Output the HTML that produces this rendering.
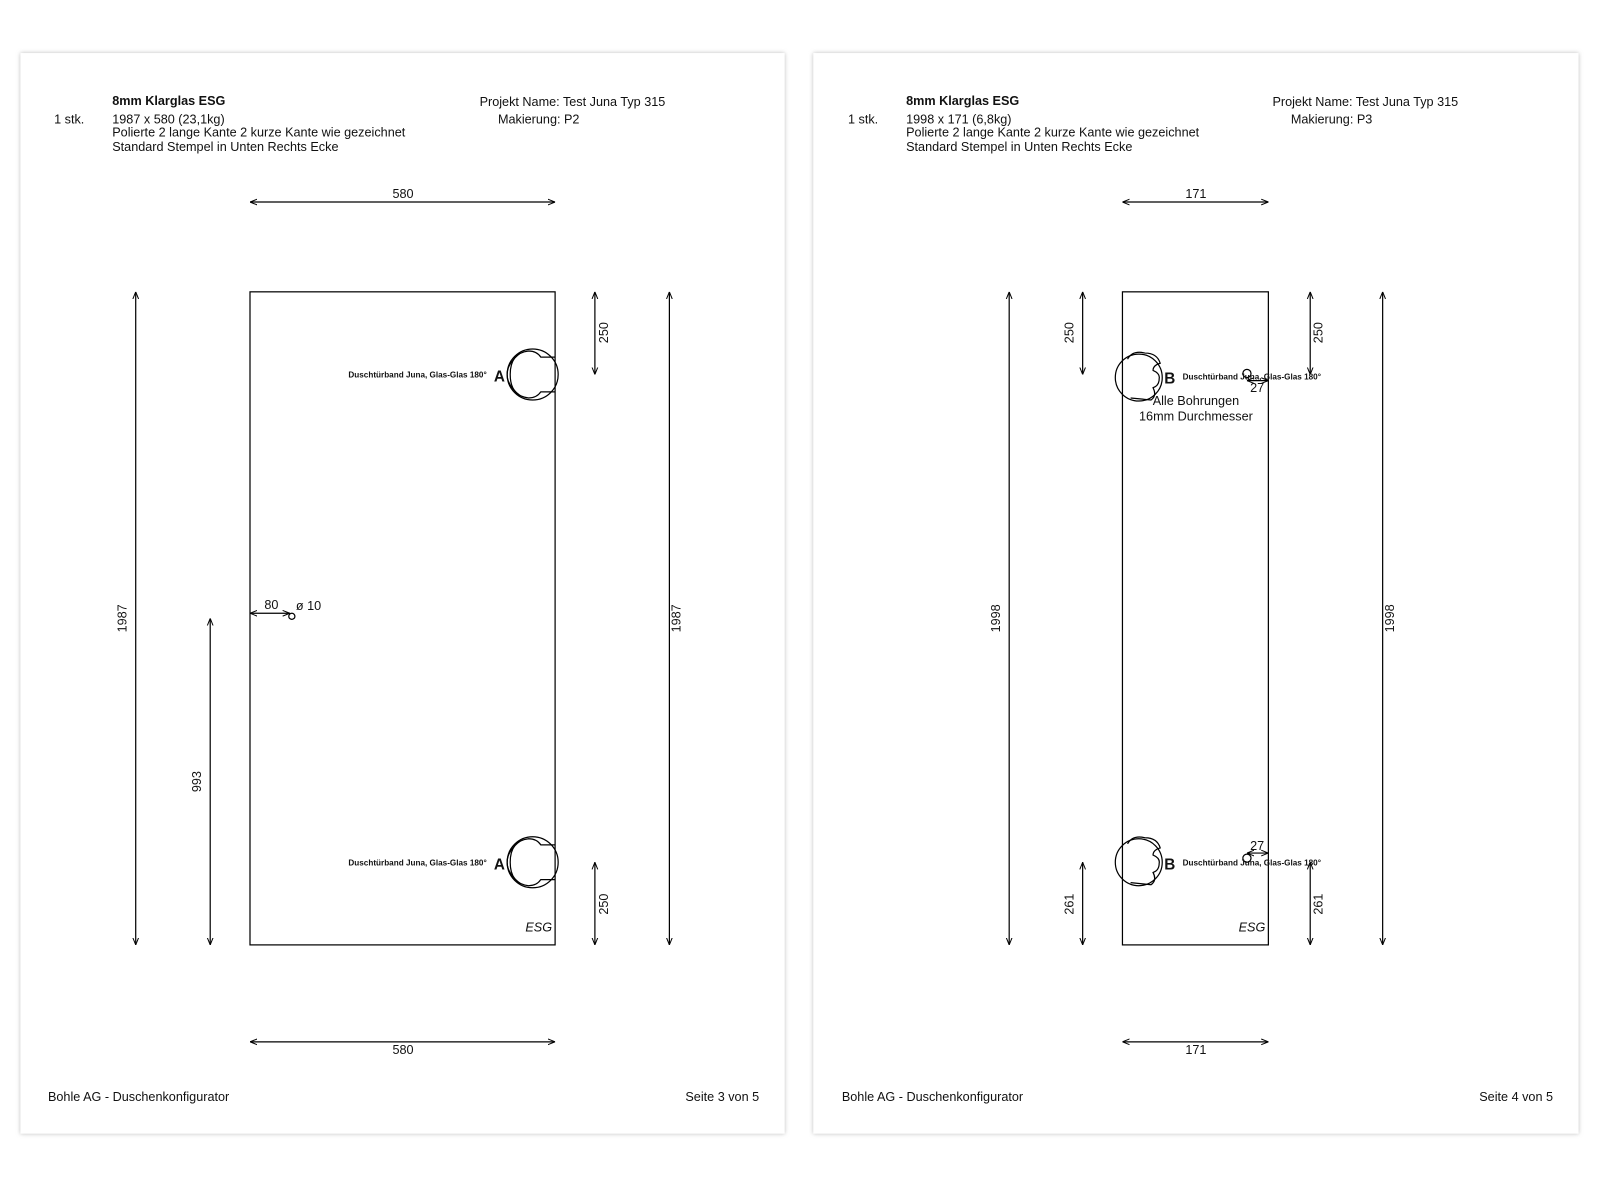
<!DOCTYPE html>
<html><head><meta charset="utf-8"><style>
html,body{margin:0;padding:0;background:#fff;width:1600px;height:1200px;overflow:hidden}
svg{display:block}
text{font-family:"Liberation Sans",sans-serif;fill:#111}
</style></head><body>
<svg width="1600" height="1200" viewBox="0 0 1568 1176" xmlns="http://www.w3.org/2000/svg">
<defs>
<marker id="a" viewBox="0 0 10 10" refX="10" refY="5" markerWidth="7" markerHeight="7" orient="auto-start-reverse" markerUnits="userSpaceOnUse"><path d="M0,1 L10,5 L0,9" fill="none" stroke="#000" stroke-width="1.4"/></marker>
<filter id="sh" x="-5%" y="-5%" width="110%" height="110%"><feGaussianBlur stdDeviation="2"/></filter>
</defs>
<rect width="1568" height="1176" fill="#fff"/>
<rect x="20" y="52" width="749" height="1059" fill="#bbb" filter="url(#sh)"/>
<rect x="20" y="52" width="749" height="1059" fill="#fff"/>
<rect x="797" y="52" width="750" height="1059" fill="#bbb" filter="url(#sh)"/>
<rect x="797" y="52" width="750" height="1059" fill="#fff"/>

<g stroke="#000" stroke-width="1.2" fill="none">
<rect x="245" y="286" width="299" height="640"/>
<line x1="245" y1="198" x2="544" y2="198" marker-start="url(#a)" marker-end="url(#a)"/>
<line x1="245" y1="1021" x2="544" y2="1021" marker-start="url(#a)" marker-end="url(#a)"/>
<line x1="133" y1="286" x2="133" y2="926" marker-start="url(#a)" marker-end="url(#a)"/>
<line x1="656" y1="286" x2="656" y2="926" marker-start="url(#a)" marker-end="url(#a)"/>
<line x1="206" y1="606" x2="206" y2="926" marker-start="url(#a)" marker-end="url(#a)"/>
<line x1="583" y1="286" x2="583" y2="367" marker-start="url(#a)" marker-end="url(#a)"/>
<line x1="583" y1="845" x2="583" y2="926" marker-start="url(#a)" marker-end="url(#a)"/>
<line x1="245" y1="601" x2="284" y2="601" marker-start="url(#a)" marker-end="url(#a)"/>
<circle cx="286" cy="604" r="3"/>
<g id="hA">
<circle cx="522" cy="367" r="25"/>
<path d="M544,350 L530,350 Q526,344 518,344 Q500,346 500,367 Q500,388 518,390 Q526,390 530,384 L544,384"/>
<path d="M510,346 Q497,356 497,367 Q497,378 510,388"/>
</g>
<use href="#hA" transform="translate(0,478)"/>
<rect x="1100" y="286" width="143" height="640"/>
<line x1="1100" y1="198" x2="1243" y2="198" marker-start="url(#a)" marker-end="url(#a)"/>
<line x1="1100" y1="1021" x2="1243" y2="1021" marker-start="url(#a)" marker-end="url(#a)"/>
<line x1="989" y1="286" x2="989" y2="926" marker-start="url(#a)" marker-end="url(#a)"/>
<line x1="1355" y1="286" x2="1355" y2="926" marker-start="url(#a)" marker-end="url(#a)"/>
<line x1="1061" y1="286" x2="1061" y2="367" marker-start="url(#a)" marker-end="url(#a)"/>
<line x1="1061" y1="845" x2="1061" y2="926" marker-start="url(#a)" marker-end="url(#a)"/>
<line x1="1284" y1="286" x2="1284" y2="367" marker-start="url(#a)" marker-end="url(#a)"/>
<line x1="1284" y1="845" x2="1284" y2="926" marker-start="url(#a)" marker-end="url(#a)"/>
<circle cx="1222" cy="366" r="4"/>
<line x1="1222" y1="373" x2="1243" y2="373" marker-start="url(#a)" marker-end="url(#a)"/>
<circle cx="1222" cy="841" r="4"/>
<line x1="1222" y1="836" x2="1243" y2="836" marker-start="url(#a)" marker-end="url(#a)"/>
<g id="hB">
<circle cx="1116" cy="370" r="23"/>
<path d="M1105,352 Q1110,343 1122,346 Q1134,346 1137,356 Q1130,358 1130,363 Q1137,366 1136,371 Q1136,378 1130,380 Q1134,388 1128,392 L1108,390"/>
</g>
<use href="#hB" transform="translate(0,475)"/>
</g>

<g font-size="12.4">
<text x="110" y="103" font-weight="bold">8mm Klarglas ESG</text>
<text x="53" y="121">1 stk.</text>
<text x="110" y="121">1987 x 580  (23,1kg)</text>
<text x="110" y="134">Polierte 2 lange Kante 2 kurze Kante wie gezeichnet</text>
<text x="110" y="148">Standard Stempel in Unten Rechts Ecke</text>
<text x="470" y="104">Projekt Name: Test Juna Typ 315</text>
<text x="488" y="121">Makierung: P2</text>
<text x="395" y="194" text-anchor="middle">580</text>
<text x="395" y="1033" text-anchor="middle">580</text>
<text transform="translate(124,606) rotate(-90)" text-anchor="middle">1987</text>
<text transform="translate(667,606) rotate(-90)" text-anchor="middle">1987</text>
<text transform="translate(197,766) rotate(-90)" text-anchor="middle">993</text>
<text transform="translate(596,326) rotate(-90)" text-anchor="middle">250</text>
<text transform="translate(596,886) rotate(-90)" text-anchor="middle">250</text>
<text x="266" y="597" text-anchor="middle">80</text>
<text x="290" y="598">ø 10</text>
<text x="541" y="913" text-anchor="end" font-style="italic">ESG</text>
<text x="47" y="1079">Bohle AG - Duschenkonfigurator</text>
<text x="744" y="1079" text-anchor="end">Seite 3 von 5</text>

<text x="888" y="103" font-weight="bold">8mm Klarglas ESG</text>
<text x="831" y="121">1 stk.</text>
<text x="888" y="121">1998 x 171  (6,8kg)</text>
<text x="888" y="134">Polierte 2 lange Kante 2 kurze Kante wie gezeichnet</text>
<text x="888" y="148">Standard Stempel in Unten Rechts Ecke</text>
<text x="1247" y="104">Projekt Name: Test Juna Typ 315</text>
<text x="1265" y="121">Makierung: P3</text>
<text x="1172" y="194" text-anchor="middle">171</text>
<text x="1172" y="1033" text-anchor="middle">171</text>
<text transform="translate(980,606) rotate(-90)" text-anchor="middle">1998</text>
<text transform="translate(1366,606) rotate(-90)" text-anchor="middle">1998</text>
<text transform="translate(1052,326) rotate(-90)" text-anchor="middle">250</text>
<text transform="translate(1052,886) rotate(-90)" text-anchor="middle">261</text>
<text transform="translate(1296,326) rotate(-90)" text-anchor="middle">250</text>
<text transform="translate(1296,886) rotate(-90)" text-anchor="middle">261</text>
<text x="1172" y="397" text-anchor="middle">Alle Bohrungen</text>
<text x="1172" y="412" text-anchor="middle">16mm Durchmesser</text>
<text x="1232" y="384" text-anchor="middle">27</text>
<text x="1232" y="833" text-anchor="middle">27</text>
<text x="1240" y="913" text-anchor="end" font-style="italic">ESG</text>
<text x="825" y="1079">Bohle AG - Duschenkonfigurator</text>
<text x="1522" y="1079" text-anchor="end">Seite 4 von 5</text>
</g>
<g font-size="8" font-weight="bold">
<text x="477" y="370" text-anchor="end">Duschtürband Juna, Glas-Glas 180°</text>
<text x="477" y="848" text-anchor="end">Duschtürband Juna, Glas-Glas 180°</text>
<text x="1159" y="372">Duschtürband Juna, Glas-Glas 180°</text>
<text x="1159" y="848">Duschtürband Juna, Glas-Glas 180°</text>
</g>
<g font-size="15" font-weight="bold">
<text x="484" y="374">A</text>
<text x="484" y="852">A</text>
<text x="1141" y="376">B</text>
<text x="1141" y="852">B</text>
</g>
</svg>
</body></html>
